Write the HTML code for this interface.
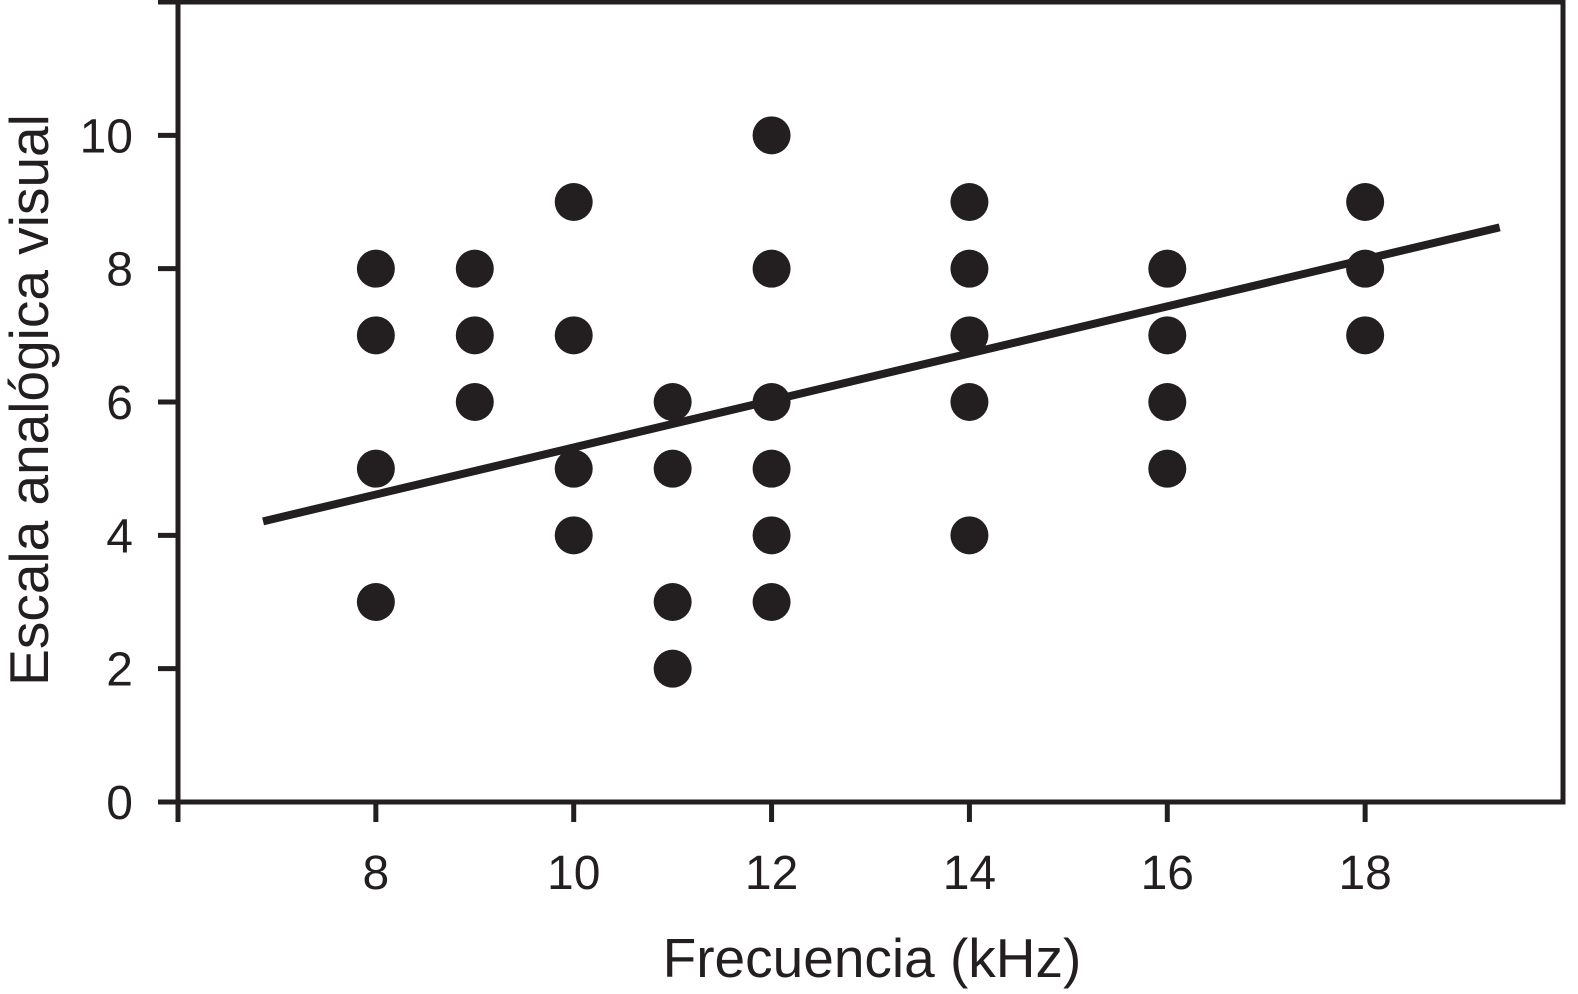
<!DOCTYPE html>
<html><head><meta charset="utf-8"><style>
html,body{margin:0;padding:0;background:#fff;}
svg{display:block;}
text{font-family:"Liberation Sans",Arial,sans-serif;fill:#231f20;}
</style></head><body>
<svg id="chart" width="1578" height="994" viewBox="0 0 1578 994" xmlns="http://www.w3.org/2000/svg">
<g id="axes"></g>
<g id="marks"></g>
<text x="872" y="977" font-size="55" text-anchor="middle">Frecuencia (kHz)</text>
<text transform="translate(48,400) rotate(-90)" font-size="55" text-anchor="middle">Escala analógica visual</text>
</svg>
<script>
const xs = [8,8,8,8, 9,9,9, 10,10,10,10, 11,11,11,11, 12,12,12,12,12,12, 14,14,14,14,14, 16,16,16,16, 18,18,18];
const ys = [8,7,5,3, 8,7,6, 9,7,5,4, 6,5,3,2, 10,8,6,5,4,3, 9,8,7,6,4, 8,7,6,5, 9,8,7];
const xTicks = [6,8,10,12,14,16,18];
const xTickLabels = ["","8","10","12","14","16","18"];
const yTicks = [0,2,4,6,8,10,12];
const yTickLabels = ["0","2","4","6","8","10",""];
const fitLine = [[6.86,4.21],[19.36,8.62]];

const L=178,R=1563,B=802,T=2;
const xMin=6,xMax=20,yMin=0,yMax=12;
const sx=v=>L+(v-xMin)/(xMax-xMin)*(R-L);
const sy=v=>B-(v-yMin)/(yMax-yMin)*(B-T);
const NS="http://www.w3.org/2000/svg";
const axes=document.getElementById('axes'), marks=document.getElementById('marks');
function mk(tag,attrs,parent){const e=document.createElementNS(NS,tag);for(const k in attrs)e.setAttribute(k,attrs[k]);parent.appendChild(e);return e;}

let frame=mk('path',{d:`M${L},${B} L${L},${T} L${R},${T} L${R},${B} Z`,fill:'none',stroke:'#231f20','stroke-width':5},axes);



xTicks.forEach((v,i)=>{
  const t=mk('line',{x1:sx(v),x2:sx(v),y1:B,y2:B+20,stroke:'#231f20','stroke-width':5},axes);
  
  
  if(xTickLabels[i]){
    const tx=mk('text',{x:sx(v),y:889,'font-size':48,'text-anchor':'middle'},axes);
    tx.textContent=xTickLabels[i];
    
    
  }
});
yTicks.forEach((v,i)=>{
  const t=mk('line',{x1:L-20,x2:L,y1:sy(v),y2:sy(v),stroke:'#231f20','stroke-width':5},axes);
  
  
  if(yTickLabels[i]){
    const tx=mk('text',{x:133,y:sy(v)+17,'font-size':48,'text-anchor':'end'},axes);
    tx.textContent=yTickLabels[i];
    
    
  }
});

xs.forEach((x,i)=>{
  const c=mk('circle',{cx:sx(x),cy:sy(ys[i]),r:19,fill:'#231f20'},marks);
  
  
});

const ln=mk('line',{x1:sx(fitLine[0][0]),y1:sy(fitLine[0][1]),x2:sx(fitLine[1][0]),y2:sy(fitLine[1][1]),stroke:'#231f20','stroke-width':8},marks);


</script>
</body></html>
